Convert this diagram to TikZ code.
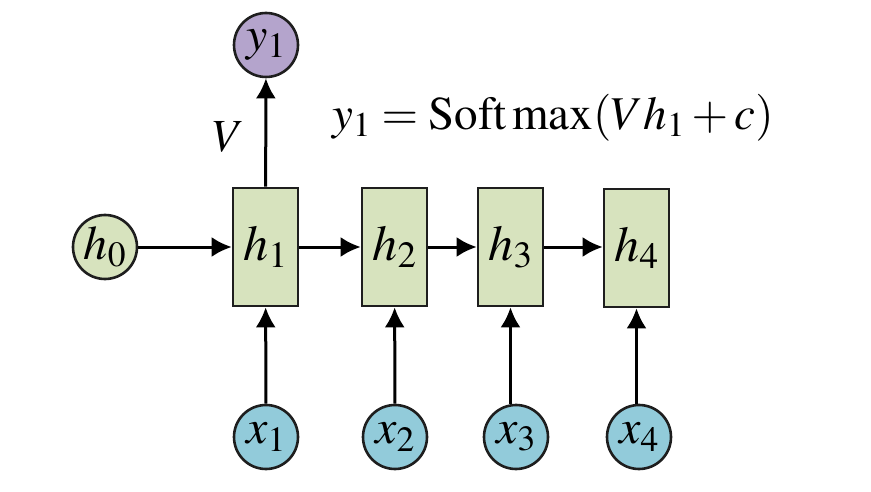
\documentclass[tikz,border=0pt]{standalone}
\usepackage{mathptmx}
\usepackage{xcolor}
\usetikzlibrary{arrows.meta}
\definecolor{hgreen}{RGB}{215,227,190}
\definecolor{ypurple}{RGB}{180,164,204}
\definecolor{xblue}{RGB}{146,203,218}
\definecolor{edge}{RGB}{30,30,30}

\tikzset{
  state/.style={draw=edge, line width=2.6pt, fill=hgreen, minimum width=65pt, minimum height=118pt, inner sep=0pt, font=\fontsize{50}{60}\selectfont},
  unit/.style={circle, draw=edge, line width=2.6pt, minimum size=64pt, inner sep=0pt, font=\fontsize{48}{58}\selectfont},
  link/.style={-{Latex[length=20pt,width=20pt]}, line width=3pt, draw=black},
}

\begin{document}
\begin{tikzpicture}[x=1pt, y=-1pt]
\useasboundingbox (0,0) rectangle (871,492);
% hidden states
\node[state] (h1) at (265.5,247) {$h_1$};
\node[state] (h2) at (394.5,247) {$h_2$};
\node[state] (h3) at (510.5,247) {$h_3$};
\node[state] (h4) at (636.5,248) {$h_4$};
\node[unit, fill=hgreen] (h0) at (105,247) {$h_0$};
\node[unit, fill=ypurple] (y1) at (266,45) {$y_1$};
% inputs
\node[unit, fill=xblue] (x1) at (266,437) {$x_1$};
\node[unit, fill=xblue] (x2) at (395,437) {$x_2$};
\node[unit, fill=xblue] (x3) at (516,437) {$x_3$};
\node[unit, fill=xblue] (x4) at (639,437) {$x_4$};
\node[font=\fontsize{46}{54}\selectfont] (V) at (229,137) {$V$};
\node[font=\fontsize{47}{56}\selectfont] (eq) at (553,118) {$y_1 = \mathrm{Soft\,max}(Vh_1 + c)$};

\draw[link] (h0) -- (h1);
\draw[link] (h1) -- (h2);
\draw[link] (h2) -- (h3);
\draw[link] (h3) -- (h4.west |- h3);
\draw[link] (h1) -- (y1);
\draw[link] (x1) -- (h1);
\draw[link] (x2) -- (h2);
\draw[link] (x3.north -| h3) -- (h3);
\draw[link] (x4.north -| h4) -- (h4);
\end{tikzpicture}
\end{document}
